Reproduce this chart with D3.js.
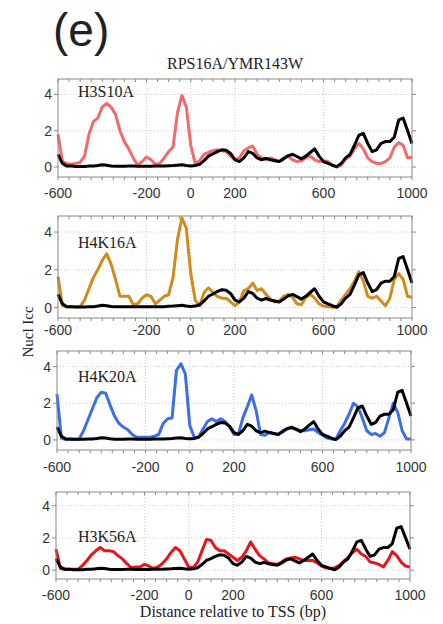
<!DOCTYPE html>
<html>
<head>
<meta charset="utf-8">
<script src="https://cdn.jsdelivr.net/npm/d3@7"></script>
<style>
  body { margin: 0; background: #fff; }
  svg text { fill: #222; }
</style>
</head>
<body>
<div id="chart"></div>
<script>
// positions relative to TSS, every 20 bp
var bp = d3.range(-600, 1001, 20);

// wild type (black), same in every panel
var wt = [0.7,0.2,0.05,0.05,0.03,0.03,0.03,0.05,0.05,0.08,0.12,0.1,0.06,0.04,0.04,0.04,0.05,0.05,0.04,0.04,
  0.04,0.04,0.05,0.05,0.05,0.07,0.08,0.1,0.12,0.08,0.06,0.08,0.15,0.35,0.6,0.72,0.85,0.95,0.92,0.75,
  0.4,0.3,0.5,0.85,0.75,0.5,0.4,0.48,0.4,0.35,0.3,0.45,0.62,0.7,0.58,0.45,0.6,0.8,1.0,0.6,
  0.3,0.2,0.1,0.02,0.2,0.5,0.7,1.2,1.75,1.85,1.3,0.85,0.95,1.3,1.4,1.4,1.65,2.6,2.7,2.0,1.3];

var h3s10a = [1.8,0.3,0.2,0.15,0.2,0.25,0.6,1.8,2.5,2.7,3.3,3.5,3.3,2.9,2.0,1.4,1.0,0.5,0.1,0.3,
  0.55,0.4,0.15,0.2,0.5,0.85,1.1,3.0,3.95,3.3,1.2,0.2,0.35,0.7,0.8,0.9,0.95,0.9,0.85,0.6,
  0.4,0.5,0.9,1.05,1.15,0.7,0.5,0.4,0.5,0.4,0.3,0.5,0.6,0.4,0.3,0.35,0.5,0.6,0.4,0.3,
  0.35,0.3,0.1,0.0,0.1,0.45,0.6,1.0,1.3,1.0,0.5,0.3,0.2,0.2,0.3,0.5,1.1,1.35,1.2,0.5,0.55];

var h4k16a = [1.65,0.1,0.05,0.05,0.05,0.05,0.4,1.0,1.6,2.0,2.5,2.85,2.3,1.5,0.6,0.6,0.6,0.15,0.2,0.5,
  0.68,0.6,0.2,0.4,0.6,0.68,1.6,3.6,4.75,4.2,1.8,0.4,0.1,0.8,1.05,0.8,0.6,0.5,0.5,0.3,
  0.1,0.3,0.9,1.0,1.3,0.9,1.0,0.7,0.45,0.3,0.35,0.6,0.7,0.55,0.2,0.15,0.55,0.7,0.5,0.2,
  0.08,0.05,0.02,0.05,0.4,0.7,1.0,1.4,1.9,1.4,0.6,0.5,0.6,0.35,0.1,0.5,1.5,1.8,1.5,0.6,0.55];

var h4k20a = [2.5,0.1,0.02,0.02,0.02,0.05,0.5,1.1,1.7,2.3,2.6,2.55,1.9,1.3,0.9,0.7,0.55,0.3,0.15,0.15,
  0.15,0.15,0.2,0.3,0.9,1.15,1.2,3.8,4.15,3.6,0.8,0.15,0.15,0.6,1.0,1.15,1.0,1.15,1.0,0.7,
  0.3,0.3,1.2,1.8,2.45,1.6,0.3,0.25,0.4,0.35,0.3,0.5,0.6,0.65,0.6,0.5,0.5,0.55,0.6,0.4,
  0.25,0.1,0.05,0.02,0.5,0.9,1.4,2.0,1.8,1.2,0.5,0.3,0.35,0.2,0.4,1.2,2.0,1.5,0.5,0.05,0.05];

var h3k56a = [1.3,0.1,0.05,0.05,0.05,0.05,0.3,0.6,0.95,1.2,1.4,1.2,1.2,1.15,0.9,0.7,0.4,0.15,0.2,0.2,
  0.37,0.25,0.1,0.2,0.4,0.7,1.1,1.4,1.2,0.7,0.2,0.15,0.5,1.2,1.9,1.85,1.4,1.2,1.2,1.0,
  0.8,0.6,0.8,1.2,1.75,1.3,0.9,0.7,0.45,0.4,0.35,0.5,0.7,0.75,0.8,0.7,0.6,0.6,0.6,0.45,
  0.25,0.15,0.1,0.15,0.3,0.55,0.8,1.1,1.3,1.0,0.85,0.5,0.45,0.35,0.2,0.6,1.15,0.9,0.5,0.25,0.2];

var mutants = ["H3S10A", "H4K16A", "H4K20A", "H3K56A"];
var xTicks = [-600, -200, 0, 200, 600, 1000];
var yTicks = [0, 2, 4];

var series = [h3s10a, h4k16a, h4k20a, h3k56a];
var colors = ["#f26a6a", "#d18a1c", "#3a6eea", "#e8141a"];

// panel boxes in pixels
var panels = [
  {left: 58, right: 412, top: 79, bottom: 177, labelY: 97, tickY: 198},
  {left: 58, right: 412, top: 216, bottom: 318, labelY: 248, tickY: 335},
  {left: 57, right: 411, top: 351, bottom: 450, labelY: 382, tickY: 472},
  {left: 56, right: 410, top: 492, bottom: 579, labelY: 542, tickY: 600}
];

var svg = d3.select("#chart").append("svg")
  .attr("width", 443)
  .attr("height", 624);

svg.append("text")
  .attr("x", 53).attr("y", 46)
  .style("font-family", "Liberation Sans, Arial, sans-serif")
  .style("font-size", "46px")
  .text("(e)");

svg.append("text")
  .attr("x", 235).attr("y", 69)
  .attr("text-anchor", "middle")
  .style("font-family", "Liberation Serif, Times New Roman, serif")
  .style("font-size", "16px")
  .text("RPS16A/YMR143W");

svg.append("text")
  .attr("transform", "translate(33,332) rotate(-90)")
  .attr("text-anchor", "middle")
  .style("font-family", "Liberation Serif, Times New Roman, serif")
  .style("font-size", "15px")
  .text("Nucl Icc");

svg.append("text")
  .attr("x", 233).attr("y", 617)
  .attr("text-anchor", "middle")
  .style("font-family", "Liberation Serif, Times New Roman, serif")
  .style("font-size", "16px")
  .text("Distance relative to TSS (bp)");

panels.forEach(function(p, k) {
  var x = d3.scaleLinear().domain([-600, 1000]).range([p.left, p.right]);
  var y = d3.scaleLinear().domain([-0.55, 4.85]).range([p.bottom, p.top]);
  var g = svg.append("g");

  // dotted grid
  g.selectAll(".hgrid").data(yTicks).enter().append("line")
    .attr("x1", p.left).attr("x2", p.right)
    .attr("y1", function(d) { return y(d); }).attr("y2", function(d) { return y(d); })
    .attr("stroke", "#ccc").attr("stroke-dasharray", "1,2");
  g.selectAll(".vgrid").data([-200, 0, 200, 600]).enter().append("line")
    .attr("y1", p.top).attr("y2", p.bottom)
    .attr("x1", function(d) { return x(d); }).attr("x2", function(d) { return x(d); })
    .attr("stroke", "#ccc").attr("stroke-dasharray", "1,2");

  // minor ticks every 50 bp, top and bottom
  var minor = d3.range(-600, 1001, 50);
  g.selectAll(".mt").data(minor).enter().append("line")
    .attr("x1", function(d) { return x(d); }).attr("x2", function(d) { return x(d); })
    .attr("y1", p.top).attr("y2", p.top + 3)
    .attr("stroke", "#888");
  g.selectAll(".mb").data(minor).enter().append("line")
    .attr("x1", function(d) { return x(d); }).attr("x2", function(d) { return x(d); })
    .attr("y1", p.bottom).attr("y2", p.bottom + 3)
    .attr("stroke", "#888");

  // y ticks on both sides
  g.selectAll(".yl").data(yTicks).enter().append("line")
    .attr("x1", p.left - 4).attr("x2", p.left)
    .attr("y1", function(d) { return y(d); }).attr("y2", function(d) { return y(d); })
    .attr("stroke", "#888");
  g.selectAll(".yr").data(yTicks).enter().append("line")
    .attr("x1", p.right).attr("x2", p.right + 4)
    .attr("y1", function(d) { return y(d); }).attr("y2", function(d) { return y(d); })
    .attr("stroke", "#888");

  g.selectAll(".ylab").data(yTicks).enter().append("text")
    .attr("x", p.left - 6)
    .attr("y", function(d) { return y(d) + 5; })
    .attr("text-anchor", "end")
    .style("font-family", "Liberation Sans, Arial, sans-serif")
    .style("font-size", "14px")
    .style("fill", "#333")
    .text(function(d) { return d; });

  g.selectAll(".xlab").data(xTicks).enter().append("text")
    .attr("x", function(d) { return x(d); })
    .attr("y", p.tickY)
    .attr("text-anchor", "middle")
    .style("font-family", "Liberation Sans, Arial, sans-serif")
    .style("font-size", "14px")
    .style("fill", "#333")
    .text(function(d) { return d; });

  var line = d3.line()
    .x(function(d, i) { return x(bp[i]); })
    .y(function(d) { return y(d); });

  g.append("path")
    .datum(series[k])
    .attr("d", line)
    .attr("fill", "none")
    .attr("stroke", colors[k])
    .attr("stroke-width", 3)
    .attr("stroke-linejoin", "round");

  g.append("path")
    .datum(wt)
    .attr("d", line)
    .attr("fill", "none")
    .attr("stroke", "#000")
    .attr("stroke-width", 3)
    .attr("stroke-linejoin", "round");

  // frame
  g.append("rect")
    .attr("x", p.left).attr("y", p.top)
    .attr("width", p.right - p.left).attr("height", p.bottom - p.top)
    .attr("fill", "none").attr("stroke", "#888");

  g.append("text")
    .attr("x", 78).attr("y", p.labelY)
    .style("font-family", "Liberation Serif, Times New Roman, serif")
    .style("font-size", "16px")
    .text(mutants[k]);
});
</script>
</body>
</html>
